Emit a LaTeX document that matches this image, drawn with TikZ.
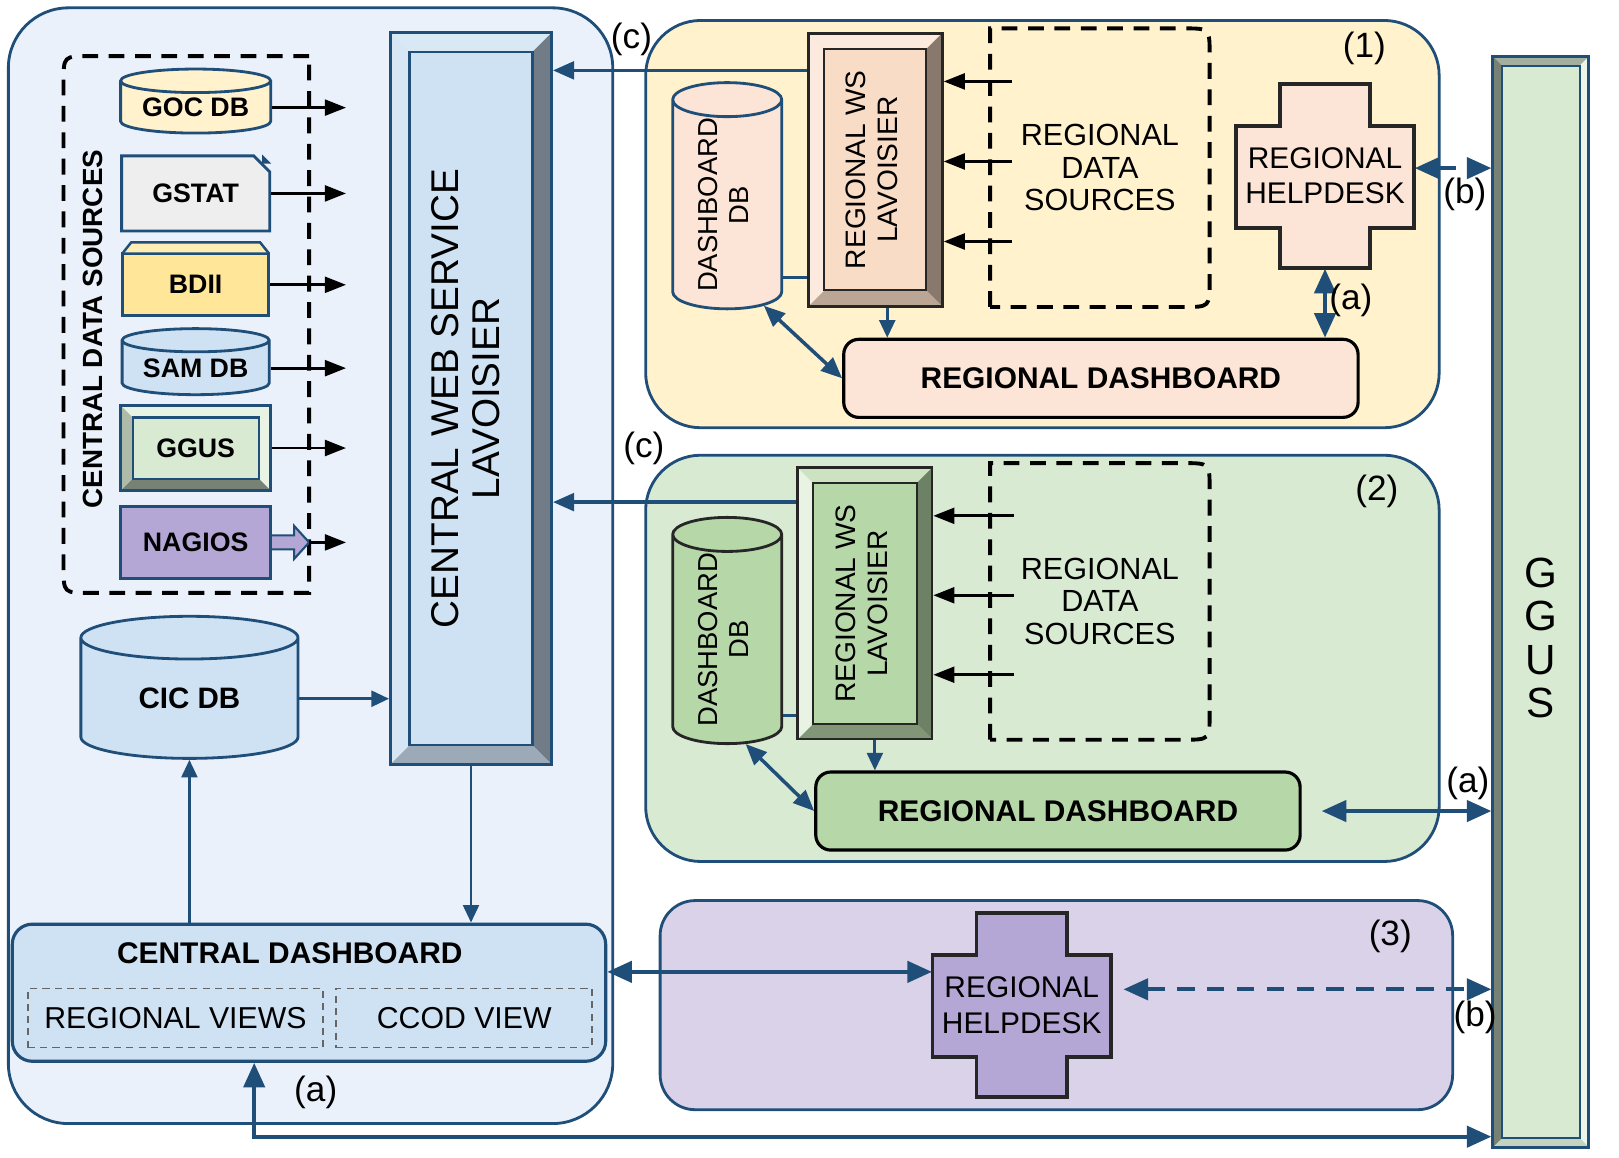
\documentclass[tikz,border=0pt]{standalone}
\usepackage{fontspec}
\setmainfont{Liberation Sans}
\usetikzlibrary{positioning,calc,arrows.meta,shapes.geometric,shapes.misc}

\definecolor{edge}{HTML}{1F4E79}
\definecolor{cbg}{HTML}{EAF1FA}
\definecolor{cblue}{HTML}{CFE2F3}
\definecolor{r1bg}{HTML}{FFF2CC}
\definecolor{r2bg}{HTML}{D9EAD3}
\definecolor{r3bg}{HTML}{D9D2E9}
\definecolor{peach}{HTML}{FCE4D6}
\definecolor{wspeach}{HTML}{F9DCC6}
\definecolor{green2}{HTML}{B6D7A8}
\definecolor{purple2}{HTML}{B4A7D6}
\definecolor{gold}{HTML}{FFE699}
\definecolor{goldtab}{HTML}{FFEDB3}
\definecolor{gstatfill}{HTML}{EEEEEE}

\newcommand{\vtext}[1]{\rotatebox{90}{\begin{tabular}{@{}c@{}}#1\end{tabular}}}
\newcommand{\crossshape}[2]{%
  \filldraw[fill=#2, draw=black!85, line width=1pt, shift={#1}]
    (-0.45cm,0.92cm) -- (0.45cm,0.92cm) -- (0.45cm,0.50cm) -- (0.89cm,0.50cm)
    -- (0.89cm,-0.52cm) -- (0.45cm,-0.52cm) -- (0.45cm,-0.92cm) -- (-0.45cm,-0.92cm)
    -- (-0.45cm,-0.52cm) -- (-0.89cm,-0.52cm) -- (-0.89cm,0.50cm) -- (-0.45cm,0.50cm) -- cycle;}

\tikzset{%
  panel/.style = {rectangle, draw=edge, line width=0.8pt, rounded corners=0.55cm, inner sep=0pt},
  dsline/.style = {draw=black, line width=1.1pt, dash pattern=on 4.5pt off 3pt},
  cyl/.style = {cylinder, shape border rotate=90, draw=edge, line width=0.8pt, inner sep=0pt},
  srcbox/.style = {rectangle, draw=edge, line width=0.8pt, inner sep=0pt},
  bevel/.style n args={6}{rectangle, draw=edge, line width=0.8pt, fill=#1, inner sep=0pt,
    path picture={
      \coordinate (bnw) at (path picture bounding box.north west);
      \coordinate (bse) at (path picture bounding box.south east);
      \coordinate (bne) at (bnw -| bse);
      \coordinate (bsw) at (bnw |- bse);
      \fill[#2] (bnw) -- (bne) -- ($(bne)+(-#6,-#6)$) -- ($(bnw)+(#6,-#6)$) -- cycle;
      \fill[#3] (bne) -- (bse) -- ($(bse)+(-#6,#6)$) -- ($(bne)+(-#6,-#6)$) -- cycle;
      \fill[#4] (bse) -- (bsw) -- ($(bsw)+(#6,#6)$) -- ($(bse)+(-#6,#6)$) -- cycle;
      \fill[#5] (bsw) -- (bnw) -- ($(bnw)+(#6,-#6)$) -- ($(bsw)+(#6,#6)$) -- cycle;
      \draw[line width=0.6pt] ($(bnw)+(#6,-#6)$) rectangle ($(bse)+(-#6,#6)$);
    }},
  dboard/.style = {rectangle, draw=black, line width=0.9pt, rounded corners=0.15cm, inner sep=0pt},
  viewbox/.style = {rectangle, draw=black!60, line width=0.5pt, dash pattern=on 2pt off 1.5pt, inner sep=0pt},
  srctext/.style = {font=\fontsize{7.6}{9}\selectfont\bfseries},
  boldtext/.style = {font=\fontsize{8.5}{10}\selectfont\bfseries},
  tag/.style = {font=\fontsize{10}{12}\selectfont, inner sep=1pt},
  srcarrow/.style = {-{Triangle[length=6pt,width=4.5pt]}, draw=black, line width=0.8pt},
  thinarrow/.style = {-{Triangle[length=5pt,width=4.5pt]}, draw=edge, line width=0.8pt},
  thinline/.style = {draw=edge, line width=0.8pt},
  carrow/.style = {-{Triangle[length=6pt,width=5pt]}, draw=edge, line width=1pt},
  medways/.style = {{Triangle[length=6pt,width=5pt]}-{Triangle[length=6pt,width=5pt]}, draw=edge, line width=1pt},
  bothways/.style = {{Triangle[length=7pt,width=6pt]}-{Triangle[length=7pt,width=6pt]}, draw=edge, line width=1.2pt},
  dashways/.style = {bothways, dash pattern=on 5pt off 3.5pt}
}

\begin{document}
\begin{tikzpicture}[x=0.01035cm,y=-0.01035cm,font=\fontsize{8.5}{10}\selectfont]
\useasboundingbox (0,0) rectangle (1564,1118);

% panels
\node[panel, fill=cbg, rounded corners=0.6cm, minimum width=6.04cm, minimum height=11.15cm] (central) at (300,546.5) {};
\node[panel, fill=r1bg, minimum width=7.93cm, minimum height=4.07cm] (reg1) at (1007,216.5) {};
\node[panel, fill=r2bg, minimum width=7.93cm, minimum height=4.06cm] (reg2) at (1007,636) {};
\node[panel, fill=r3bg, rounded corners=0.35cm, minimum width=7.92cm, minimum height=2.09cm] (reg3) at (1020.5,971) {};

% central data sources
\node[minimum width=2.44cm, minimum height=5.35cm, inner sep=0pt] (cds) at (180,313.5) {};
\draw[dsline] (cds.north east) -- ($(cds.north west)+(0.26cm,0)$) .. controls (cds.north west) .. ($(cds.north west)+(0,-0.26cm)$)
  -- ($(cds.south west)+(0,0.26cm)$) .. controls (cds.south west) .. ($(cds.south west)+(0.26cm,0)$) -- (cds.south east) -- cycle;
\node[rotate=90, font=\fontsize{7.9}{9}\selectfont\bfseries] (cdstitle) at (90,318) {CENTRAL DATA SOURCES};

\node[cyl, srctext, fill=r1bg, aspect=0.22, minimum width=1.50cm, minimum height=0.64cm] (goc) at (189,104) {GOC DB};
\node[chamfered rectangle, chamfered rectangle corners=north east, chamfered rectangle xsep=0.08cm,
  chamfered rectangle ysep=0.08cm, draw=edge, line width=0.8pt, fill=gstatfill, inner sep=0pt, srctext,
  minimum width=1.48cm, minimum height=0.75cm, below=0.2cm of goc] (gstat) {GSTAT};
\fill[edge] ($(gstat.north -| gstat.east)+(-0.09cm,0)$) -- ($(gstat.north -| gstat.east)+(0,-0.09cm)$)
  -- ($(gstat.north -| gstat.east)+(-0.09cm,-0.09cm)$) -- cycle;
\node[srcbox, srctext, fill=gold, minimum width=1.46cm, minimum height=0.62cm, below=0.2cm of gstat] (bdii) {BDII};
\filldraw[fill=goldtab, draw=edge, line width=0.7pt] ($(bdii.north west)+(0.02cm,0)$) -- ($(bdii.north west)+(0.1cm,0.1cm)$)
  -- ($(bdii.north east)+(-0.1cm,0.1cm)$) -- ($(bdii.north east)+(-0.02cm,0)$);
\node[cyl, srctext, fill=cblue, aspect=0.22, minimum width=1.47cm, minimum height=0.66cm, below=0.1cm of bdii] (sam) {SAM DB};
\node[bevel={r2bg}{r2bg!60!white}{r2bg!60!white}{black!45!r2bg}{black!20!r2bg}{0.12cm}, srctext,
  minimum width=1.50cm, minimum height=0.85cm, below=0.08cm of sam] (ggussrc) {GGUS};
\node[srcbox, srctext, fill=purple2, minimum width=1.50cm, minimum height=0.72cm, below=0.13cm of ggussrc] (nagios) {NAGIOS};
\filldraw[fill=purple2, draw=edge, line width=0.6pt] ($(nagios.east)+(0,0.07cm)$) -- ($(nagios.east)+(0.22cm,0.07cm)$)
  -- ($(nagios.east)+(0.22cm,0.165cm)$) -- ($(nagios.east)+(0.37cm,0)$) coordinate (nagtip)
  -- ($(nagios.east)+(0.22cm,-0.165cm)$) -- ($(nagios.east)+(0.22cm,-0.07cm)$) -- ($(nagios.east)+(0,-0.07cm)$);

% central web service, cic db, central dashboard
\node[bevel={cblue}{cblue!80!white}{black!45!cblue}{black!25!cblue}{cblue!85!white}{0.19cm},
  minimum width=1.61cm, minimum height=7.31cm] (cws) at (455,385)
  {\fontsize{11}{11.6}\selectfont\vtext{CENTRAL WEB SERVICE\\LAVOISIER}};
\node[cyl, fill=cblue, aspect=0.42, minimum width=2.17cm, minimum height=1.42cm,
  font=\fontsize{8.4}{10}\selectfont\bfseries] (cicdb) at (183,675) {CIC DB};
\node[dboard, draw=edge, fill=cblue, rounded corners=0.2cm, minimum width=5.93cm, minimum height=1.37cm] (cd) at (298.5,959) {};
\node[boldtext] (cdtitle) at (280,921) {CENTRAL DASHBOARD};
\node[viewbox, minimum width=2.95cm, minimum height=0.59cm, font=\fontsize{8.6}{10}\selectfont] (rviews) at (169.5,983.5) {REGIONAL VIEWS};
\node[viewbox, minimum width=2.56cm, minimum height=0.59cm, font=\fontsize{8.6}{10}\selectfont] (ccod) at (448.5,983.5) {CCOD VIEW};

% region (1)
\node[bevel={wspeach}{wspeach!60!white}{black!45!wspeach}{black!25!wspeach}{wspeach!60!white}{0.16cm}, draw=black!85,
  minimum width=1.34cm, minimum height=2.73cm] (ws1) at (845.5,164)
  {\fontsize{8}{9}\selectfont\vtext{REGIONAL WS\\LAVOISIER}};
\node[cyl, fill=peach, aspect=0.55, minimum width=1.09cm, minimum height=2.04cm] (db1) at (702.5,198)
  {\fontsize{7.8}{8.8}\selectfont\vtext{DASHBOARD\\DB}};
\node[minimum width=2.18cm, minimum height=2.77cm, inner sep=0pt, align=center,
  font=\fontsize{8.7}{9.3}\selectfont] (ds1) at (1062.5,162) {REGIONAL\\DATA\\SOURCES};
\draw[dsline] (ds1.south west) -- (ds1.north west) -- ($(ds1.north east)+(-0.26cm,0)$) .. controls (ds1.north east) .. ($(ds1.north east)+(0,-0.26cm)$)
  -- ($(ds1.south east)+(0,0.26cm)$) .. controls (ds1.south east) .. ($(ds1.south east)+(-0.26cm,0)$) -- cycle;
\crossshape{(1280,170)}{peach}
\node[minimum width=1.78cm, minimum height=1.84cm, inner sep=0pt, align=center] (hd1) at (1280,170) {REGIONAL\\HELPDESK};
\node[dboard, fill=peach, boldtext, minimum width=5.14cm, minimum height=0.78cm] (rd1) at (1063.5,365.5) {REGIONAL DASHBOARD};
\node[tag] (n1) at (1318,47) {(1)};

% region (2)
\node[bevel={green2}{green2!70!white}{black!40!green2}{black!30!green2}{r2bg!60!white}{0.15cm}, draw=black!85,
  minimum width=1.34cm, minimum height=2.71cm] (ws2) at (835.5,583)
  {\fontsize{8}{9}\selectfont\vtext{REGIONAL WS\\LAVOISIER}};
\node[cyl, draw=black!85, fill=green2, aspect=0.55, minimum width=1.09cm, minimum height=2.0cm] (db2) at (702.5,618)
  {\fontsize{7.8}{8.8}\selectfont\vtext{DASHBOARD\\DB}};
\node[minimum width=2.18cm, minimum height=2.75cm, inner sep=0pt, align=center,
  font=\fontsize{8.7}{9.3}\selectfont] (ds2) at (1062.5,581) {REGIONAL\\DATA\\SOURCES};
\draw[dsline] (ds2.south west) -- (ds2.north west) -- ($(ds2.north east)+(-0.26cm,0)$) .. controls (ds2.north east) .. ($(ds2.north east)+(0,-0.26cm)$)
  -- ($(ds2.south east)+(0,0.26cm)$) .. controls (ds2.south east) .. ($(ds2.south east)+(-0.26cm,0)$) -- cycle;
\node[dboard, fill=green2, boldtext, minimum width=4.84cm, minimum height=0.78cm] (rd2) at (1022,783.5) {REGIONAL DASHBOARD};
\node[tag] (n2) at (1330,475) {(2)};

% region (3)
\crossshape{(987,971)}{purple2}
\node[minimum width=1.78cm, minimum height=1.84cm, inner sep=0pt, align=center] (hd3) at (987,971) {REGIONAL\\HELPDESK};
\node[tag] (n3) at (1343,905) {(3)};

% GGUS
\node[bevel={r2bg}{black!25!r2bg}{r2bg!50!white}{black!10!r2bg}{black!45!r2bg}{0.09cm},
  minimum width=0.96cm, minimum height=10.90cm,
  label={[font=\fontsize{12}{12.4}\selectfont, align=center, yshift=-0.36cm]center:G\\G\\U\\S}] (ggus) at (1488.5,581.5) {};

% connectors: data sources
\foreach \s in {goc,gstat,bdii,sam,ggussrc}
  \draw[srcarrow, shorten >=0.43cm] (\s.east) -- (\s.east -| cws.west);
\draw[srcarrow, shorten >=0.43cm] (nagtip) -- (nagtip -| cws.west);
\foreach \f in {0.18,0.47,0.76}{
  \coordinate (t1) at ($(ws1.north east)!\f!(ws1.south east)$);
  \draw[srcarrow] ($(t1 -| ds1.west)+(0.22cm,0)$) -- (t1);
  \coordinate (t2) at ($(ws2.north east)!\f!(ws2.south east)$);
  \draw[srcarrow] ($(t2 -| ds2.west)+(0.24cm,0)$) -- (t2);
}

% connectors: (c) links
\coordinate (c1) at ($(ws1.north west)!0.14!(ws1.south west)$);
\draw[carrow] (c1) -- (c1 -| cws.east);
\coordinate (c2) at ($(ws2.north west)!0.13!(ws2.south west)$);
\draw[carrow] (c2) -- (c2 -| cws.east);
\node[tag] (lc1) at (610,38) {(c)};
\node[tag] (lc2) at (622,433) {(c)};

% connectors: inside regions
\coordinate (l1) at ($(ws1.north west)!0.89!(ws1.south west)$);
\draw[thinline] (l1 -| db1.east) -- (l1);
\coordinate (l2) at ($(ws2.north west)!0.91!(ws2.south west)$);
\draw[thinline] (l2 -| db2.east) -- (l2);
\draw[thinarrow] ($(ws1.south)+(0.12cm,0)$) -- ($(ws1.south |- rd1.north)+(0.12cm,0)$);
\draw[thinarrow] ($(ws2.south)+(0.1cm,0)$) -- ($(ws2.south |- rd2.north)+(0.1cm,0)$);
\draw[medways] (db1.-70) -- (rd1.west);
\draw[medways] (db2.-80) -- (rd2.west);
\draw[bothways] (hd1.south) -- (hd1.south |- rd1.north);
\node[tag] (la1) at (1305,290) {(a)};

% connectors: to GGUS
\draw[dashways] (hd1.5) -- (hd1.5 -| ggus.west);
\node[tag] (lb1) at (1415,188) {(b)};
\draw[bothways, shorten <=0.2cm] (rd2.east) -- (rd2.east -| ggus.west);
\node[tag] (la2) at (1418,757) {(a)};
\draw[dashways, shorten <=0.12cm] (hd3.10) -- (hd3.10 -| ggus.west);
\node[tag] (lb3) at (1425,983) {(b)};
\draw[bothways] (cd.4) -- (cd.4 -| hd3.west);
\coordinate (abot) at ($(ggus.south west)+(0,0.12cm)$);
\draw[bothways] (cd.-128) |- (abot);
\node[tag] (la3) at (305,1055) {(a)};

% connectors: central block
\draw[thinarrow] (cicdb.east) -- (cicdb.east -| cws.west);
\draw[thinarrow] (cicdb.south |- cd.north) -- (cicdb.south);
\draw[thinarrow] (cws.south) -- (cws.south |- cd.north);
\end{tikzpicture}
\end{document}
